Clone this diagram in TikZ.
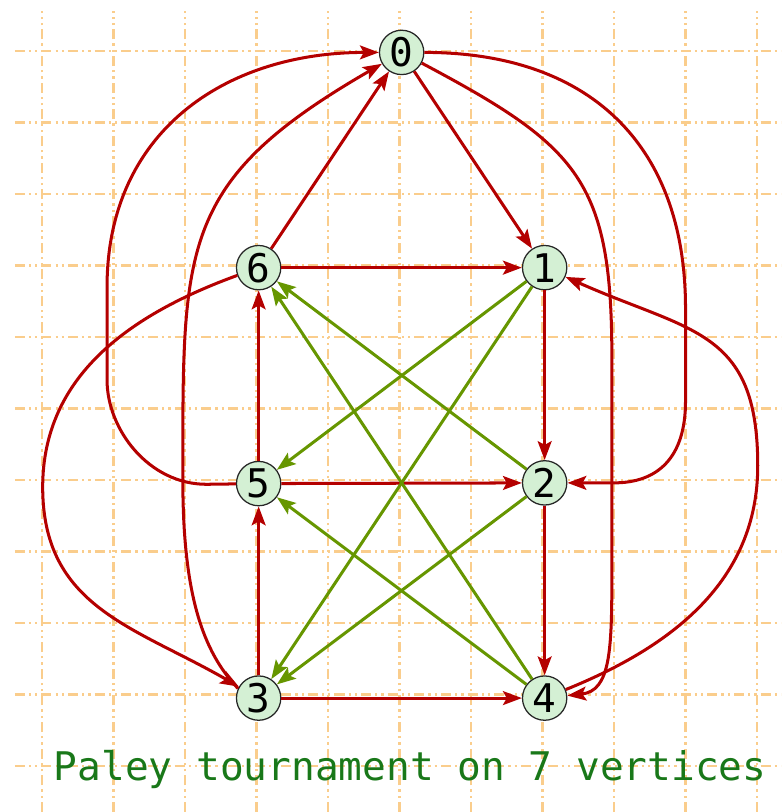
\documentclass[tikz,border=0pt]{standalone}
\usepackage{fontspec}
\newfontfamily\monofont{DejaVu Sans Mono}
\usetikzlibrary{arrows.meta}
\definecolor{edgered}{RGB}{180,0,0}
\definecolor{edgegreen}{RGB}{102,150,0}
\definecolor{nodefill}{RGB}{212,240,212}
\definecolor{gridorange}{RGB}{250,205,140}
\definecolor{titlegreen}{RGB}{25,120,25}
\tikzset{
  vertex/.style={circle, draw=black!85, line width=0.5pt, fill=nodefill,
    minimum size=0.62cm, inner sep=0pt, font=\monofont\fontsize{15.7}{16}\selectfont},
  arrowtip/.style={-{Stealth[length=7.5pt,width=5.5pt,inset=1.5pt]}},
  redarc/.style={draw=edgered, line width=1.2pt, arrowtip},
  greenarc/.style={draw=edgegreen, line width=1.2pt, arrowtip},
  gridline/.style={draw=gridorange, line width=0.85pt,
    dash pattern=on 4pt off 1.6pt on 0.9pt off 1.6pt on 0.9pt off 1.6pt},
}
\begin{document}
\begin{tikzpicture}
\useasboundingbox (-0.587,-10.643) rectangle (10.336,0.713);
% background grid
\draw[gridline, step=1cm] (-0.38,-10.643) grid (10.336,0.56);

% vertices
\node[vertex] (v0) at (5.03,-0.02) {0};
\node[vertex] (v6) at (3.03,-3.03) {6};
\node[vertex] (v1) at (7.03,-3.03) {1};
\node[vertex] (v5) at (3.03,-6.05) {5};
\node[vertex] (v2) at (7.03,-6.04) {2};
\node[vertex] (v3) at (3.03,-9.05) {3};
\node[vertex] (v4) at (7.03,-9.05) {4};

% straight red arcs
\draw[redarc] (v0) -- (v1);
\draw[redarc] (v6) -- (v0);
\draw[redarc] (v6) -- (v1);
\draw[redarc] (v1) -- (v2);
\draw[redarc] (v2) -- (v4);
\draw[redarc] (v3) -- (v4);
\draw[redarc] (v3) -- (v5);
\draw[redarc] (v5) -- (v6);
\draw[redarc] (v5) -- (v2);

% curved red arcs
\draw[redarc] (v0.east) to[out=0,in=90,looseness=1.15] (9.0,-3.6) -- (9.0,-4.9)
  .. controls (9.0,-5.7) and (8.6,-6.04) .. (8.0,-6.04) -- (v2);
\draw[redarc] (v0.-28) to[out=-28,in=90,looseness=1.3] (7.97,-4.3) -- (7.97,-7.3)
  .. controls (7.97,-8.4) and (7.95,-8.95) .. (v4);
\draw[redarc] (v4) to[out=22,in=-90] (10.01,-5.8) to[out=90,in=-24,looseness=1.3] (v1);
\draw[redarc] (v6) to[out=200,in=90] (0.01,-6.1) to[out=-90,in=150,looseness=1.1] (v3);
\draw[redarc] (v5) -- (2.3,-6.06) .. controls (1.5,-6.06) and (0.91,-5.3) .. (0.91,-4.6)
  -- (0.91,-3.3) to[out=90,in=180,looseness=1.1] (v0);
\draw[redarc] (v3.155) .. controls (2.25,-8.4) and (1.97,-7.6) .. (1.97,-6.0)
  to[out=90,in=-150,looseness=1.3] (v0);

% green arcs
\draw[greenarc] (v1) -- (v5);
\draw[greenarc] (v1) -- (v3);
\draw[greenarc] (v2) -- (v3);
\draw[greenarc] (v2) -- (v6);
\draw[greenarc] (v4) -- (v6);
\draw[greenarc] (v4) -- (v5);

% caption
\node[font=\monofont\fontsize{15.7}{16}\selectfont, text=titlegreen, inner sep=0pt]
  (title) at (5.15,-10.05) {Paley tournament on 7 vertices};
\end{tikzpicture}
\end{document}
